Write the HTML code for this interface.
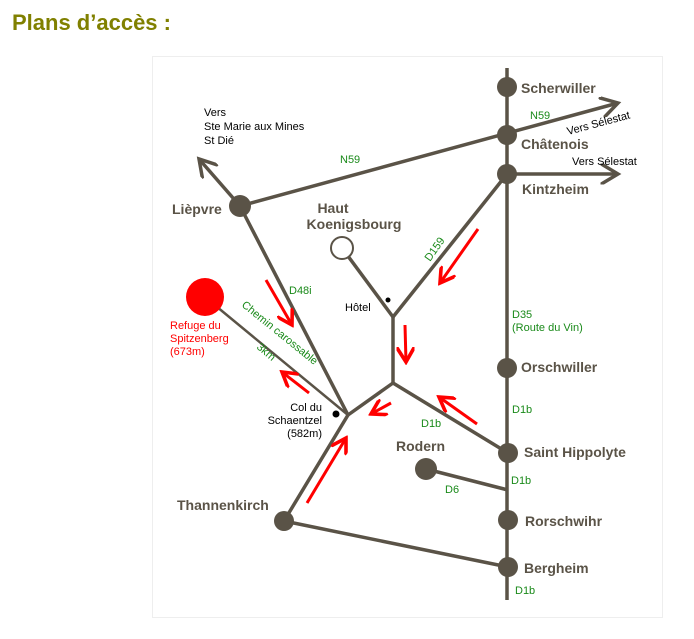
<!DOCTYPE html>
<html><head><meta charset="utf-8"><style>
body{margin:0;background:#fff;width:694px;height:639px;overflow:hidden}
svg{position:absolute;left:0;top:0}
.n{font-family:"Liberation Sans",sans-serif;font-size:14px;font-weight:bold;fill:#5a5347}
.g{font-family:"Liberation Sans",sans-serif;font-size:11px;fill:#1a8a1a}
.k{font-family:"Liberation Sans",sans-serif;font-size:11px;fill:#000}
.r{font-family:"Liberation Sans",sans-serif;font-size:11px;fill:#f00}
</style></head><body>
<svg width="694" height="639" viewBox="0 0 694 639">
<text x="12" y="30" font-family="Liberation Sans,sans-serif" font-size="22" font-weight="bold" fill="#808000">Plans d’accès :</text>
<rect x="152.5" y="56.5" width="510" height="561" fill="#fff" stroke="#eee"/>
<defs>
<marker id="ra" markerWidth="6" markerHeight="6" refX="5" refY="3" orient="auto" markerUnits="strokeWidth"><path d="M0,0 L5,3 L0,6" fill="none" stroke="#f00" stroke-width="1.2"/></marker>
<marker id="ga" markerWidth="6" markerHeight="6" refX="5" refY="3" orient="auto" markerUnits="strokeWidth"><path d="M0,0 L5,3 L0,6" fill="none" stroke="#5a5347" stroke-width="1"/></marker>
</defs>
<g stroke="#5a5347" stroke-width="3.5" fill="none">
<line x1="507" y1="68" x2="507" y2="600"/>
<line x1="240" y1="206" x2="618" y2="103" marker-end="url(#ga)"/>
<line x1="507" y1="174" x2="618" y2="174" marker-end="url(#ga)"/>
<line x1="240" y1="206" x2="199" y2="159" marker-end="url(#ga)"/>
<line x1="240" y1="206" x2="348" y2="415"/>
<line x1="348" y1="415" x2="284" y2="521"/>
<line x1="284" y1="521" x2="508" y2="567"/>
<line x1="348" y1="415" x2="393" y2="383"/>
<line x1="393" y1="383" x2="393" y2="317"/>
<line x1="393" y1="317" x2="507" y2="174"/>
<line x1="393" y1="317" x2="342" y2="248"/>
<line x1="393" y1="383" x2="508" y2="453"/>
<line x1="426" y1="469" x2="508" y2="490"/>
<line x1="205" y1="297" x2="348" y2="415" stroke-width="2.5"/>
</g>
<g fill="#5a5347">
<circle cx="507" cy="87" r="10"/><circle cx="507" cy="135" r="10"/><circle cx="507" cy="174" r="10"/>
<circle cx="507" cy="368" r="10"/><circle cx="508" cy="453" r="10"/><circle cx="508" cy="520" r="10"/>
<circle cx="508" cy="567" r="10"/><circle cx="240" cy="206" r="11"/><circle cx="284" cy="521" r="10"/>
<circle cx="426" cy="469" r="11"/>
</g>
<circle cx="342" cy="248" r="11" fill="#fff" stroke="#5a5347" stroke-width="2"/>
<circle cx="205" cy="297" r="19" fill="#f00"/>
<circle cx="388" cy="300" r="2.5" fill="#000"/><circle cx="336" cy="414" r="3.5" fill="#000"/>
<g stroke="#f00" stroke-width="3" fill="none">
<line x1="266" y1="280" x2="292" y2="325" marker-end="url(#ra)"/>
<line x1="478" y1="229" x2="440" y2="283" marker-end="url(#ra)"/>
<line x1="405" y1="325" x2="406" y2="362" marker-end="url(#ra)"/>
<line x1="391" y1="403" x2="371" y2="414" marker-end="url(#ra)"/>
<line x1="477" y1="424" x2="439" y2="397" marker-end="url(#ra)"/>
<line x1="309" y1="393" x2="282" y2="372" marker-end="url(#ra)"/>
<line x1="307" y1="503" x2="346" y2="438" marker-end="url(#ra)"/>
</g>
<text class="n" x="521" y="93">Scherwiller</text>
<text class="n" x="521" y="149">Châtenois</text>
<text class="n" x="522" y="194">Kintzheim</text>
<text class="n" x="521" y="372">Orschwiller</text>
<text class="n" x="524" y="457">Saint Hippolyte</text>
<text class="n" x="525" y="526">Rorschwihr</text>
<text class="n" x="524" y="573">Bergheim</text>
<text class="n" x="172" y="214">Lièpvre</text>
<text class="n" x="177" y="510">Thannenkirch</text>
<text class="n" x="396" y="451">Rodern</text>
<text class="n" x="333" y="213" text-anchor="middle">Haut</text>
<text class="n" x="354" y="229" text-anchor="middle">Koenigsbourg</text>
<text class="k" x="204" y="116">Vers</text>
<text class="k" x="204" y="130">Ste Marie aux Mines</text>
<text class="k" x="204" y="144">St Dié</text>
<text class="k" x="572" y="165">Vers Sélestat</text>
<text class="k" x="0" y="0" transform="translate(568,135) rotate(-15)">Vers Sélestat</text>
<text class="k" x="345" y="311">Hôtel</text>
<text class="k" x="322" y="411" text-anchor="end">Col du</text>
<text class="k" x="322" y="424" text-anchor="end">Schaentzel</text>
<text class="k" x="322" y="437" text-anchor="end">(582m)</text>
<text class="r" x="170" y="329">Refuge du</text>
<text class="r" x="170" y="342">Spitzenberg</text>
<text class="r" x="170" y="355">(673m)</text>
<text class="g" x="340" y="163">N59</text>
<text class="g" x="530" y="119">N59</text>
<text class="g" x="0" y="0" transform="translate(430,262) rotate(-55)">D159</text>
<text class="g" x="289" y="294">D48i</text>
<text class="g" x="0" y="0" transform="translate(241,306) rotate(39)">Chemin carossable</text>
<text class="g" x="0" y="0" transform="translate(256,348) rotate(40)">3km</text>
<text class="g" x="512" y="318">D35</text>
<text class="g" x="512" y="331">(Route du Vin)</text>
<text class="g" x="512" y="413">D1b</text>
<text class="g" x="421" y="427">D1b</text>
<text class="g" x="511" y="484">D1b</text>
<text class="g" x="445" y="493">D6</text>
<text class="g" x="515" y="594">D1b</text>
</svg>
</body></html>
